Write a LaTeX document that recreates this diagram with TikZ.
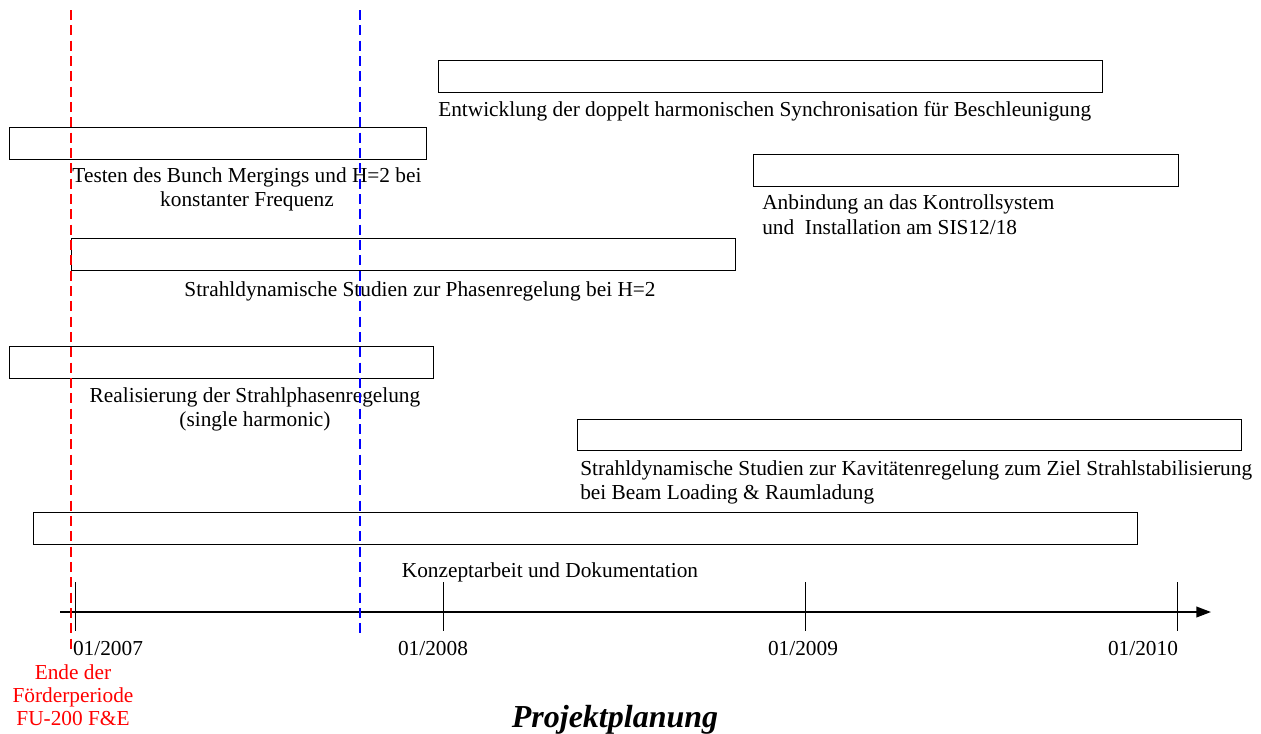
\documentclass[tikz,border=0pt]{standalone}
\usepackage{fontspec}
\setmainfont{Liberation Serif}
\usetikzlibrary{arrows.meta}
\begin{document}
\begin{tikzpicture}[x=0.75pt,y=-0.75pt,
  bar/.style={draw=black,line width=0.6pt},
  lbl/.style={font=\fontsize{16}{19}\selectfont,inner sep=0pt,anchor=base},
  lbll/.style={lbl,anchor=base west},
  lblc/.style={lbl,align=center},
  axisline/.style={line width=1.3pt,-{Triangle[length=11pt,width=8pt]}},
  tick/.style={line width=0.7pt},
  reddash/.style={draw={rgb,255:red,255;green,0;blue,0},line width=1.8pt,dash pattern=on 7.5pt off 4pt},
  bluedash/.style={draw={rgb,255:red,0;green,0;blue,255},line width=1.8pt,dash pattern=on 7.5pt off 4pt}]
\useasboundingbox (0,0) rectangle (1261,733);
% boxes
\draw[bar] (438,60) rectangle (1102,92);
\draw[bar] (9,127) rectangle (426,159);
\draw[bar] (753,154) rectangle (1178,186);
\draw[bar] (71,238) rectangle (735,270);
\draw[bar] (9,346) rectangle (433,378);
\draw[bar] (577,419) rectangle (1241,450);
\draw[bar] (33,512) rectangle (1137,544);
% labels
\node[lbll] (t1) at (438,116) {Entwicklung der doppelt harmonischen Synchronisation für Beschleunigung};
\node[lbl] (t2a) at (247,182) {Testen des Bunch Mergings und H=2 bei};
\node[lbl] (t2b) at (247,206) {konstanter Frequenz};
\node[lbll] (t3a) at (762,209) {Anbindung an das Kontrollsystem};
\node[lbll] (t3b) at (762,234) {und\ \ Installation am SIS12/18};
\node[lbl] (t4) at (420,296) {Strahldynamische Studien zur Phasenregelung bei H=2};
\node[lbl] (t5a) at (255,402) {Realisierung der Strahlphasenregelung};
\node[lbl] (t5b) at (255,426) {(single harmonic)};
\node[lbll] (t6a) at (580,475) {Strahldynamische Studien zur Kavitätenregelung zum Ziel Strahlstabilisierung};
\node[lbll] (t6b) at (580,499) {bei Beam Loading \& Raumladung};
\node[lbl] (t7) at (550,577) {Konzeptarbeit und Dokumentation};
% axis
\coordinate (a0) at (60,612);
\coordinate (a1) at (1211,612);
\draw[axisline] (a0) -- (a1);
\foreach \x in {75,443,805,1177}{
  \draw[tick] (\x,582) -- (\x,631);
}
\node[lbl] (d7) at (108,655) {01/2007};
\node[lbl] (d8) at (433,655) {01/2008};
\node[lbl] (d9) at (803,655) {01/2009};
\node[lbl] (d10) at (1143,655) {01/2010};
% dashed lines
\draw[reddash] (71,10) -- (71,650);
\draw[bluedash] (360,10) -- (360,636);
% red text
\node[lblc,text={rgb,255:red,255;green,0;blue,0}] (ende) at (73,679) {Ende der};
\node[lblc,text={rgb,255:red,255;green,0;blue,0}] (foe) at (73,702) {Förderperiode};
\node[lblc,text={rgb,255:red,255;green,0;blue,0}] (fu) at (73,725) {FU-200 F\&E};
% title
\node[inner sep=0pt,anchor=base,font=\fontsize{24}{28}\selectfont\bfseries\itshape] (title) at (615,727) {Projektplanung};
\end{tikzpicture}
\end{document}
